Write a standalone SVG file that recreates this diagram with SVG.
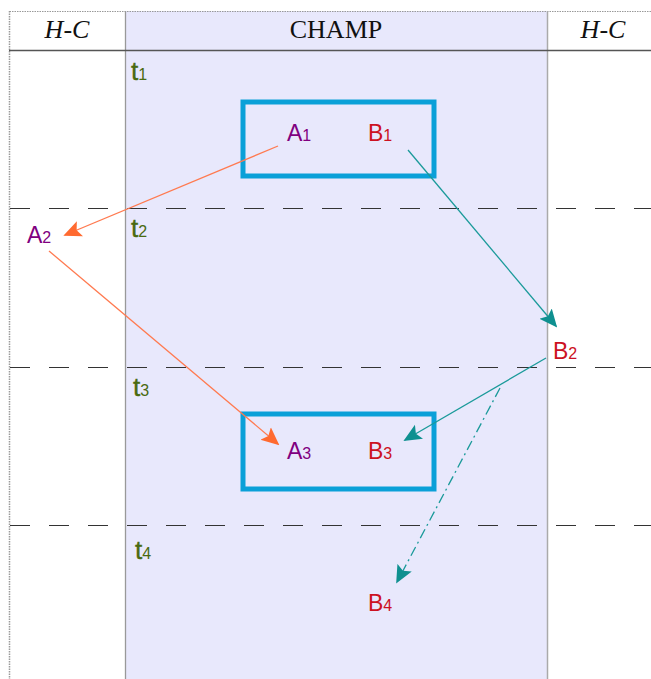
<svg xmlns="http://www.w3.org/2000/svg" width="651" height="679" viewBox="0 0 651 679">
<style>
.hdr{font-family:"Liberation Serif",serif;font-size:26px;fill:#111;text-anchor:middle}
.t{font-family:"Liberation Sans",Arial,sans-serif;font-size:26px;fill:#4a6a10;stroke:#4a6a10;stroke-width:0.4}
.t .sub{stroke-width:0}
.lbl{font-family:"Liberation Sans",Arial,sans-serif;font-size:23px}
.sub{font-size:16px}
.pa{fill:#800080}
.pb{fill:#cc1122}
.box{fill:none;stroke:#0aa0d8;stroke-width:5}
.dash{stroke:#333;stroke-width:1.2;stroke-dasharray:20 19}
.or{stroke:#ff7a50;stroke-width:1.3;fill:none}
.te{stroke:#1a9a9a;stroke-width:1.3;fill:none}
</style>
<defs>
<marker id="at" viewBox="0 0 10 10" refX="9" refY="5" markerWidth="18" markerHeight="18" markerUnits="userSpaceOnUse" orient="auto"><path d="M0,0.5 L10,5 L0,9.5 L2,5 Z" fill="#0f9090"/></marker>
<marker id="ao" viewBox="0 0 10 10" refX="9" refY="5" markerWidth="18" markerHeight="18" markerUnits="userSpaceOnUse" orient="auto"><path d="M0,0.5 L10,5 L0,9.5 L2,5 Z" fill="#ff6a30"/></marker>
</defs>
<rect width="651" height="679" fill="#fff"/>
<g id="grid">
<rect x="125" y="11" width="422" height="668" fill="#e8e8fc"/>
<line x1="9.5" y1="11.5" x2="651" y2="11.5" stroke="#999" stroke-width="1.2" stroke-dasharray="1.5 1"/>
<line x1="9.5" y1="11" x2="9.5" y2="679" stroke="#999" stroke-width="1.5" stroke-dasharray="1.5 1"/>
<line x1="125.5" y1="11" x2="125.5" y2="679" stroke="#999" stroke-width="1.3"/>
<line x1="547.5" y1="11" x2="547.5" y2="679" stroke="#aaa" stroke-width="1.5"/>
<line x1="9" y1="50.5" x2="651" y2="50.5" stroke="#555" stroke-width="1.3"/>
<text class="hdr" x="67" y="38" font-style="italic">H-C</text>
<text class="hdr" x="336" y="38">CHAMP</text>
<text class="hdr" x="603" y="38" font-style="italic">H-C</text>
<line class="dash" x1="10" y1="208.5" x2="651" y2="208.5"/>
<line class="dash" x1="10" y1="367.5" x2="651" y2="367.5"/>
<line class="dash" x1="10" y1="525.5" x2="651" y2="525.5"/>
<text class="t" x="131" y="80">t<tspan class="sub">1</tspan></text>
<text class="t" x="131" y="237">t<tspan class="sub">2</tspan></text>
<text class="t" x="133" y="396">t<tspan class="sub">3</tspan></text>
<text class="t" x="135" y="559">t<tspan class="sub">4</tspan></text>
</g>
<g id="box1"><rect class="box" x="243" y="102" width="191" height="74"/></g>
<g id="box2"><rect class="box" x="243" y="414" width="191" height="75"/></g>
<g id="A1"><text class="lbl pa" x="287" y="141">A<tspan class="sub">1</tspan></text></g>
<g id="B1"><text class="lbl pb" x="368" y="141">B<tspan class="sub">1</tspan></text></g>
<g id="A2"><text class="lbl pa" x="27" y="243">A<tspan class="sub">2</tspan></text></g>
<g id="B2"><text class="lbl pb" x="553" y="359">B<tspan class="sub">2</tspan></text></g>
<g id="A3"><text class="lbl pa" x="287" y="459">A<tspan class="sub">3</tspan></text></g>
<g id="B3"><text class="lbl pb" x="368" y="459">B<tspan class="sub">3</tspan></text></g>
<g id="B4"><text class="lbl pb" x="368" y="611">B<tspan class="sub">4</tspan></text></g>
<g id="connectors">
<line class="or" x1="278" y1="146" x2="65" y2="235" marker-end="url(#ao)"/>
<line class="or" x1="49" y1="251" x2="278" y2="444" marker-end="url(#ao)"/>
<line class="te" x1="408" y1="150" x2="556" y2="326" marker-end="url(#at)"/>
<line class="te" x1="546" y1="358" x2="405" y2="440" marker-end="url(#at)"/>
<line class="te" x1="500" y1="388" x2="397" y2="582" stroke-dasharray="10 4 2 4" stroke-width="1.2" marker-end="url(#at)"/>
</g>
</svg>
